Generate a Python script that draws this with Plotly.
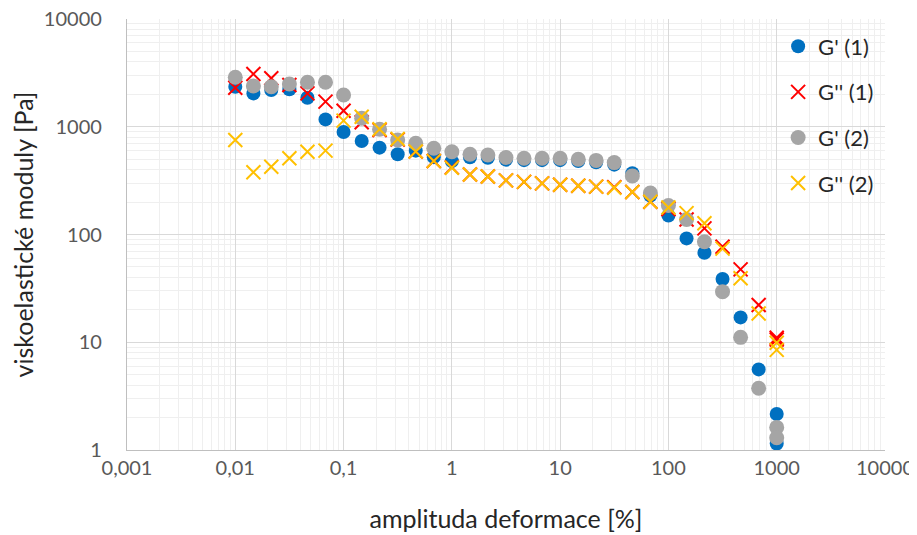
import plotly.graph_objects as go

# strain amplitude [%]
amplitude = [0.01, 0.0147, 0.0215, 0.0316, 0.0464, 0.0681, 0.1, 0.147, 0.215, 0.316,
             0.464, 0.681, 1, 1.47, 2.15, 3.16, 4.64, 6.81, 10, 14.7, 21.5, 31.6,
             46.4, 68.1, 100, 147, 215, 316, 464, 681, 1000, 1000]

g1_storage = [2350, 2040, 2190, 2230, 1860, 1170, 895, 738, 640, 555, 600, 522, 480, 520,
              515, 495, 490, 490, 490, 480, 468, 445, 370, 230, 150, 92, 67.6, 38.6, 17.0,
              5.6, 2.16, 1.15]
g1_loss = [2300, 3090, 2820, 2440, 2040, 1710, 1410, 1100, 930, 760, 590, 481, 420, 360,
           345, 318, 308, 298, 290, 283, 278, 275, 248, 201, 172, 138, 114, 77, 47.5, 22.2,
           11.0, 10.6]
g2_storage = [2880, 2390, 2350, 2490, 2585, 2585, 1970, 1200, 947, 754, 702, 631, 587, 555,
              547, 518, 510, 510, 510, 500, 487, 465, 350, 243, 186, 138, 85.6, 29.5, 11.1,
              3.74, 1.62, 1.3]
g2_loss = [754, 378, 426, 510, 587, 600, 1140, 1240, 947, 770, 590, 481, 417, 360, 345, 318,
           308, 298, 290, 283, 278, 272, 248, 201, 178, 158, 127, 74, 39.2, 18.5, 9.9, 8.5]

series_names = ["G' (1)", "G'' (1)", "G' (2)", "G'' (2)"]

x_tickvals = [0.001, 0.01, 0.1, 1, 10, 100, 1000, 10000]
x_ticktext = ["0,001", "0,01", "0,1", "1", "10", "100", "1000", "10000"]
y_tickvals = [1, 10, 100, 1000, 10000]
y_ticktext = ["1", "10", "100", "1000", "10000"]

FONT = "Lato"

fig = go.Figure()
fig.add_trace(go.Scatter(x=amplitude, y=g1_storage, mode="markers", name=series_names[0],
                         legendgroup="a",
                         marker=dict(symbol="circle", size=14, color="#0070C0")))
fig.add_trace(go.Scatter(x=amplitude, y=g1_loss, mode="markers", name=series_names[1],
                         legendgroup="b",
                         marker=dict(symbol="x-thin", size=14, color="#FF0000",
                                     line=dict(color="#FF0000", width=2))))
fig.add_trace(go.Scatter(x=amplitude, y=g2_storage, mode="markers", name=series_names[2],
                         legendgroup="c",
                         marker=dict(symbol="circle", size=15, color="#A5A5A5")))
fig.add_trace(go.Scatter(x=amplitude, y=g2_loss, mode="markers", name=series_names[3],
                         legendgroup="d",
                         marker=dict(symbol="x-thin", size=14, color="#FFC000",
                                     line=dict(color="#FFC000", width=2))))

minor_vals = []
for e in range(-3, 5):
    for m in range(2, 10):
        minor_vals.append(m * 10 ** e)

axis_common = dict(
    type="log",
    automargin=False,
    ticklabeloverflow="allow",
    showgrid=True, gridcolor="#D9D9D9", gridwidth=1.3,
    zeroline=False,
    tickfont=dict(family=FONT, size=20, color="#595959"),
    title_font=dict(family=FONT, size=25, color="#262626"),
)

fig.update_xaxes(
    **axis_common,
    range=[-3, 4],
    tickvals=x_tickvals, ticktext=x_ticktext,
    showline=True, linecolor="#BFBFBF", linewidth=1.3,
    ticks="outside", ticklen=0, tickcolor="rgba(0,0,0,0)",
    minor=dict(tickvals=[v for v in minor_vals if 0.001 < v < 10000], showgrid=True,
               gridcolor="#EFEFEF", gridwidth=1),
    title_text="amplituda deformace [%]",
    title_standoff=32,
)
fig.update_yaxes(
    **axis_common,
    range=[0, 4],
    tickvals=y_tickvals, ticktext=y_ticktext,
    showline=True, linecolor="#BFBFBF", linewidth=1.3,
    ticks="outside", ticklen=20, tickcolor="rgba(0,0,0,0)",
    minor=dict(tickvals=[v for v in minor_vals if 1 < v < 10000], showgrid=True,
               gridcolor="#EFEFEF", gridwidth=1),
    title_text="viskoelastické moduly [Pa]",
    title_standoff=6,
)

fig.update_layout(
    width=917, height=535,
    margin=dict(l=119, r=40, t=11, b=93),
    paper_bgcolor="white", plot_bgcolor="white",
    font=dict(family=FONT, color="#262626"),
    legend=dict(x=0.859, y=0.985, xanchor="left", yanchor="top",
                bgcolor="rgba(0,0,0,0)", tracegroupgap=14,
                font=dict(family=FONT, size=22, color="#262626")),
)

fig.write_html("out.html")
